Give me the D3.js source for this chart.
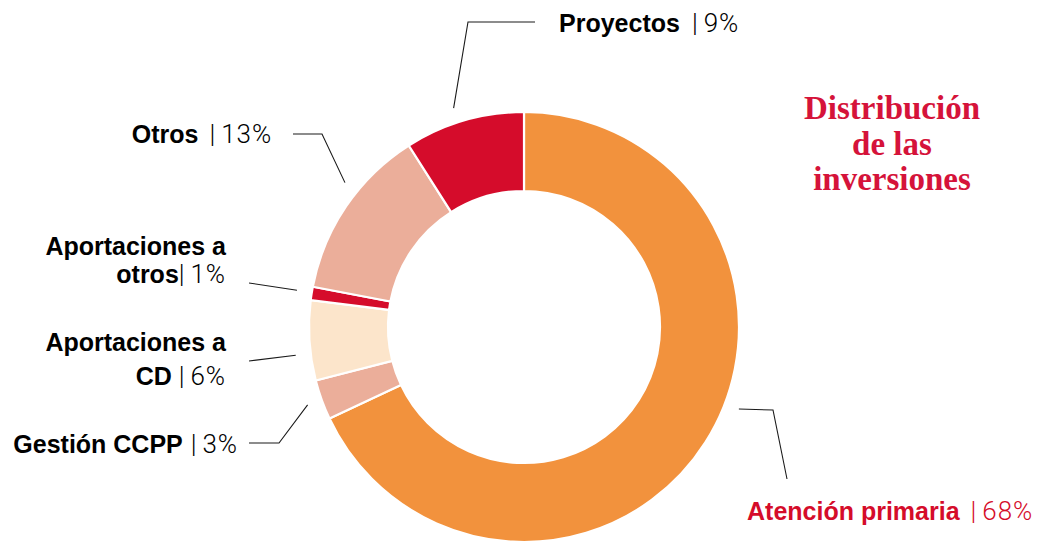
<!DOCTYPE html>
<html>
<head>
<meta charset="utf-8">
<script src="https://cdn.jsdelivr.net/npm/d3@7"></script>
<style>
  body { margin: 0; background: #fff; }
  svg { display: block; }
</style>
</head>
<body>
<div id="chart"></div>
<script>
// data, clockwise from 12 o'clock
const categories = ["Atención primaria", "Gestión CCPP", "Aportaciones a CD", "Aportaciones a otros", "Otros", "Proyectos"];
const values = [68, 3, 6, 1, 13, 9];
const palette = ["#f2923d", "#ebae9a", "#fce5cb", "#d50c2b", "#ebae9a", "#d50c2b"];

// label layout: name lines, where the leader starts inside the slice (0..1), elbow + end of line, text position
const labelLayout = [
  { lines: ["Atención primaria"], gap: 11, t: 0.453, pts: [[773, 410], [787, 479]], tx: 747, ty: 520, anchor: "start", color: "#d50c2a" },
  { lines: ["Gestión CCPP"], gap: 8, t: 0.5, pts: [[279, 443], [249, 443]], tx: 238, ty: 453, anchor: "end" },
  { lines: ["Aportaciones a", "CD"], gap: 7, t: 0.34, pts: [[249, 361]], tx: 226, ty: 351, anchor: "end", lh: 34 },
  { lines: ["Aportaciones a", "otros"], gap: 0, t: 0.55, pts: [[249, 283]], tx: 226, ty: 255, anchor: "end", lh: 28 },
  { lines: ["Otros"], gap: 11, t: 0.6, pts: [[322, 134], [293, 134]], tx: 272, ty: 143, anchor: "end" },
  { lines: ["Proyectos"], gap: 12, t: 0.45, pts: [[468, 22], [535, 22]], tx: 559, ty: 32, anchor: "start" }
];

const titleLines = ["Distribución", "de las", "inversiones"];

const width = 1044, height = 544;
const cx = 524, cy = 327;
const outerR = 215, innerR = 136;

const svg = d3.select("#chart").append("svg")
    .attr("width", width)
    .attr("height", height);

const pie = d3.pie().sort(null).value(d => d);
const arcs = pie(values);

const arc = d3.arc().innerRadius(innerR).outerRadius(outerR);

const g = svg.append("g").attr("transform", `translate(${cx},${cy})`);

g.selectAll("path")
    .data(arcs)
    .enter()
    .append("path")
    .attr("d", arc)
    .attr("fill", (d, i) => palette[i])
    .attr("stroke", "#fff")
    .attr("stroke-width", 2.2);

// leader lines + labels
const startR = outerR + 15;
arcs.forEach((a, i) => {
    const lay = labelLayout[i];
    const ang = a.startAngle + (a.endAngle - a.startAngle) * lay.t;
    const p0 = [cx + startR * Math.sin(ang), cy - startR * Math.cos(ang)];
    svg.append("path")
        .attr("d", d3.line()([p0, ...lay.pts]))
        .attr("fill", "none")
        .attr("stroke", "#1a1a1a")
        .attr("stroke-width", 1.1);

    lay.lines.forEach((name, k) => {
        const last = k === lay.lines.length - 1;
        const line = svg.append("text")
            .attr("x", lay.tx)
            .attr("y", lay.ty + k * (lay.lh || 0))
            .attr("text-anchor", lay.anchor)
            .attr("fill", lay.color || "#000")
            .style("font-size", "25px");
        line.append("tspan")
            .style("font-family", "'Liberation Sans', Arial, sans-serif")
            .style("font-weight", 700)
            .text(name);
        if (last) {
            line.append("tspan")
                .attr("dx", lay.gap)
                .style("font-family", "Roboto, sans-serif")
                .style("font-weight", 300)
                .style("font-size", "26px")
                .text("|");
            line.append("tspan")
                .attr("dx", 6)
                .style("font-family", "Roboto, sans-serif")
                .style("font-weight", 300)
                .style("font-size", "26px")
                .style("letter-spacing", "0.9px")
                .text(values[i] + "%");
        }
    });
});

// title
svg.append("text")
    .attr("text-anchor", "middle")
    .attr("fill", "#d5133a")
    .style("font-family", "'Liberation Serif', 'DejaVu Serif', serif")
    .style("font-weight", 700)
    .style("font-size", "33px")
    .selectAll("tspan")
    .data(titleLines)
    .enter()
    .append("tspan")
    .attr("x", 892)
    .attr("y", (d, i) => 119 + i * 35.5)
    .text(d => d);
</script>
</body>
</html>
